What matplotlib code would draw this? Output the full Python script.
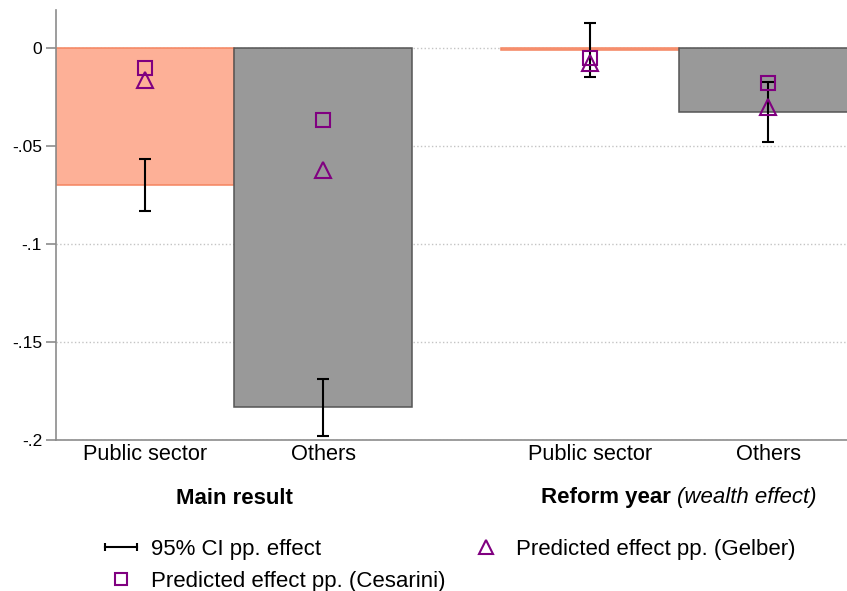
import matplotlib
matplotlib.use("Agg")
import matplotlib.pyplot as plt
from matplotlib.lines import Line2D
from matplotlib.legend_handler import HandlerLine2D
import matplotlib.transforms as mtransforms

plt.rcParams['font.family'] = ['Liberation Sans', 'DejaVu Sans']

# effects per group (pp.)
categories = ["Public sector", "Others", "Public sector", "Others"]
effect = [-0.070, -0.183, -0.001, -0.0327]
ci_low = [-0.0832, -0.198, -0.0148, -0.048]
ci_high = [-0.0566, -0.169, 0.0128, -0.0173]
pred_cesarini = [-0.0102, -0.0367, -0.0053, -0.018]
pred_gelber = [-0.0163, -0.062, -0.0077, -0.030]
yticks = [0, -0.05, -0.1, -0.15, -0.2]
yticklabels = ["0", "-.05", "-.1", "-.15", "-.2"]
legend_labels = ["95% CI pp. effect", "Predicted effect pp. (Cesarini)",
                 "Predicted effect pp. (Gelber)"]

pos = [0.5, 1.5, 3.0, 4.0]
group_pos = [1.0, 3.5]
fills = ['#fdb097', '#999999', '#fdb097', '#999999']
edges = ['#f4845f', '#555555', '#f4845f', '#555555']
purple = '#800080'

fig = plt.figure(figsize=(8.47, 5.91), dpi=100)
ax = fig.add_axes([56/847, 151/591, 1 - 56/847, 430/591])

ax.bar(pos, effect, width=1.0, color=fills, edgecolor=edges, linewidth=1.1, zorder=2)

yerr = [[e - lo for e, lo in zip(effect, ci_low)], [hi - e for e, hi in zip(effect, ci_high)]]
ax.errorbar(pos, effect, yerr=yerr, fmt='none', ecolor='black', elinewidth=1.5,
            capsize=4.5, capthick=1.5, zorder=3)
ax.plot(pos, pred_gelber, linestyle='none', marker='^', markersize=11,
        markerfacecolor='none', markeredgecolor=purple, markeredgewidth=1.5, zorder=4)
ax.plot(pos, pred_cesarini, linestyle='none', marker='s', markersize=9.5,
        markerfacecolor='none', markeredgecolor=purple, markeredgewidth=1.5, zorder=4)

ax.set_xlim(0, (847 - 56) / 178)
ax.set_ylim(-0.2, 38 / 1960)
ax.set_yticks(yticks)
ax.set_yticklabels(yticklabels, fontsize=12.5)
ax.set_xticks(pos)
ax.set_xticklabels(categories, fontsize=15.7)
ax.tick_params(axis='x', length=0, pad=3)
ax.tick_params(axis='y', length=7, width=1.2, color='#8c8c8c', pad=3)
ax.grid(axis='y', linestyle=':', color='#c4c4c4', linewidth=1, zorder=0)
ax.set_axisbelow(True)
for s in ['top', 'right']:
    ax.spines[s].set_visible(False)
for s in ['left', 'bottom']:
    ax.spines[s].set_color('#8c8c8c')
    ax.spines[s].set_linewidth(1.2)

# group titles under the category labels
title_y = 93/591
trans = mtransforms.blended_transform_factory(ax.transData, fig.transFigure)
ax.text(group_pos[0], title_y, "Main result", transform=trans, ha='center',
        va='center', fontsize=16, fontweight='bold')

# bold + italic title, laid out as two texts centred together
renderer = fig.canvas.get_renderer()
t_bold = fig.text(0, 0, "Reform year ", fontsize=16, fontweight='bold')
t_ital = fig.text(0, 0, "(wealth effect)", fontsize=16, fontstyle='italic')
w_bold = t_bold.get_window_extent(renderer).width
w_ital = t_ital.get_window_extent(renderer).width
t_bold.remove()
t_ital.remove()
cx = ax.transData.transform((group_pos[1], 0))[0] / fig.bbox.width
start = cx - (w_bold + w_ital) / 2 / fig.bbox.width
fig.text(start, title_y, "Reform year ", fontsize=16, fontweight='bold', va='center')
fig.text(start + w_bold / fig.bbox.width, title_y, "(wealth effect)", fontsize=16,
         fontstyle='italic', va='center')

ci_handle = Line2D([], [], color='black', linewidth=1.5, marker='|',
                   markersize=6, markeredgewidth=1.5)
sq_handle = Line2D([], [], linestyle='none', marker='s', markersize=9,
                   markerfacecolor='none', markeredgecolor=purple, markeredgewidth=1.5)
tr_handle = Line2D([], [], linestyle='none', marker='^', markersize=10,
                   markerfacecolor='none', markeredgecolor=purple, markeredgewidth=1.5)
fig.legend([ci_handle, sq_handle, tr_handle], legend_labels,
           handler_map={ci_handle: HandlerLine2D(numpoints=2, marker_pad=0)},
           ncol=2, loc='upper left', bbox_to_anchor=(105/847, 1 - 539/591),
           frameon=False, fontsize=16, handlelength=1.45, handletextpad=0.62,
           labelspacing=0.5, columnspacing=1.1, borderpad=0, borderaxespad=0)

fig.savefig('out.png', dpi=100)
